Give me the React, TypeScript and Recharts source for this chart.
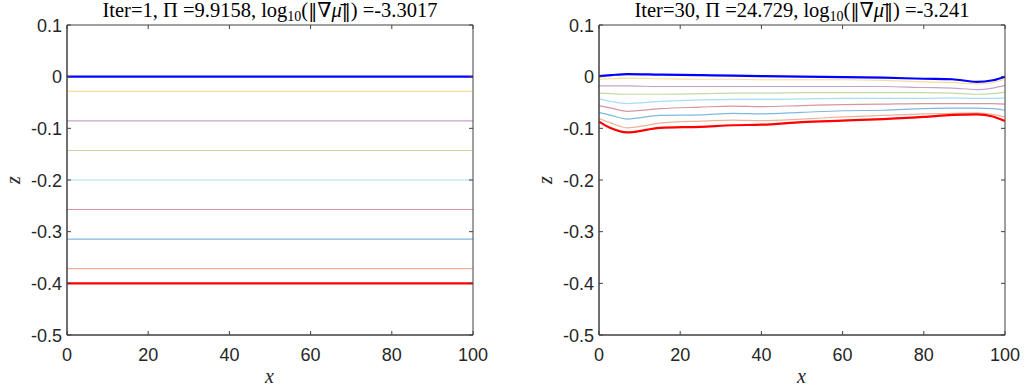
import React from 'react';
import { LineChart, Line, XAxis, YAxis, ReferenceArea } from 'recharts';

// x positions and tick values
const X_TICKS = [0, 20, 40, 60, 80, 100];
const Y_TICKS = [0.1, 0, -0.1, -0.2, -0.3, -0.4, -0.5];
const Y_TICK_LABELS = ['0.1', '0', '-0.1', '-0.2', '-0.3', '-0.4', '-0.5'];

// left panel (Iter=1): flat lines
const xLeft = [0, 100];
const leftLevels = [0, -0.0286, -0.0857, -0.1429, -0.2, -0.2571, -0.3143, -0.3714, -0.4];

// right panel (Iter=30)
const xRight = [0, 3, 7, 15, 25, 33, 40, 50, 60, 70, 80, 87, 93, 97, 100];
const rTop = [0.001, 0.003, 0.005, 0.004, 0.003, 0.002, 0.001, 0.0, -0.001, -0.002, -0.004, -0.005, -0.01, -0.007, 0.0];
const rYellow = [-0.005, -0.004, -0.003, -0.004, -0.005, -0.005, -0.006, -0.006, -0.006, -0.007, -0.01, -0.011, -0.014, -0.011, -0.005];
const rPurple = [-0.018, -0.018, -0.018, -0.019, -0.019, -0.019, -0.019, -0.019, -0.019, -0.019, -0.021, -0.022, -0.025, -0.022, -0.017];
const rGreen = [-0.032, -0.033, -0.034, -0.034, -0.033, -0.032, -0.032, -0.031, -0.031, -0.031, -0.031, -0.032, -0.034, -0.033, -0.03];
const rCyan = [-0.043, -0.048, -0.052, -0.048, -0.045, -0.044, -0.044, -0.043, -0.042, -0.042, -0.042, -0.041, -0.042, -0.042, -0.041];
const rWine = [-0.056, -0.061, -0.067, -0.062, -0.059, -0.057, -0.058, -0.056, -0.054, -0.053, -0.052, -0.052, -0.052, -0.052, -0.053];
const rBlue = [-0.069, -0.075, -0.082, -0.075, -0.074, -0.071, -0.072, -0.069, -0.066, -0.065, -0.062, -0.061, -0.061, -0.062, -0.065];
const rOrange = [-0.081, -0.09, -0.099, -0.09, -0.086, -0.084, -0.085, -0.082, -0.078, -0.075, -0.072, -0.071, -0.07, -0.073, -0.078];
const rBottom = [-0.087, -0.1, -0.108, -0.099, -0.097, -0.094, -0.093, -0.088, -0.085, -0.082, -0.078, -0.074, -0.073, -0.077, -0.086];

// matlab-ish colours, top to bottom
const SERIES = [
  { color: '#0000ff', width: 2.2, opacity: 1 },
  { color: '#EDB120', width: 1.2, opacity: 0.45 },
  { color: '#7E2F8E', width: 1.2, opacity: 0.45 },
  { color: '#77AC30', width: 1.2, opacity: 0.45 },
  { color: '#4DBEEE', width: 1.2, opacity: 0.5 },
  { color: '#A2142F', width: 1.2, opacity: 0.45 },
  { color: '#0072BD', width: 1.2, opacity: 0.5 },
  { color: '#D95319', width: 1.2, opacity: 0.45 },
  { color: '#ff0000', width: 2.2, opacity: 1 },
];

const PLOT_W = 406;
const PLOT_H = 310;
const AXIS = '#404040';
const TEXT = '#262626';
const SANS = '"Liberation Sans", Arial, sans-serif';
const SERIF = '"Liberation Serif", "DejaVu Serif", serif';

const leftData = xLeft.map((x) => {
  const row: Record<string, number> = { x };
  leftLevels.forEach((v, i) => (row[`s${i}`] = v));
  return row;
});

const rightSeries = [rTop, rYellow, rPurple, rGreen, rCyan, rWine, rBlue, rOrange, rBottom];
const rightData = xRight.map((x, j) => {
  const row: Record<string, number> = { x };
  rightSeries.forEach((s, i) => (row[`s${i}`] = s[j]));
  return row;
});

function XTick({ x, y, payload }: any) {
  return (
    <g>
      <line x1={x} x2={x} y1={y} y2={y - 4} stroke={AXIS} />
      <line x1={x} x2={x} y1={y - PLOT_H} y2={y - PLOT_H + 4} stroke={AXIS} />
      <text x={x} y={y + 26} textAnchor="middle" fontSize={18} fontFamily={SANS} fill={TEXT}>
        {payload.value}
      </text>
    </g>
  );
}

function YTick({ x, y, payload, index }: any) {
  return (
    <g>
      <line x1={x} x2={x + 4} y1={y} y2={y} stroke={AXIS} />
      <line x1={x + PLOT_W} x2={x + PLOT_W - 4} y1={y} y2={y} stroke={AXIS} />
      <text x={x - 5} y={y + 6.5} textAnchor="end" fontSize={18} fontFamily={SANS} fill={TEXT}>
        {Y_TICK_LABELS[index] ?? payload.value}
      </text>
    </g>
  );
}

function Panel({ data, yAxisWidth, rightMargin, width }: any) {
  return (
    <LineChart
      width={width}
      height={392}
      data={data}
      margin={{ top: 25, right: rightMargin, bottom: 0, left: 0 }}
    >
      <XAxis
        dataKey="x"
        type="number"
        domain={[0, 100]}
        ticks={X_TICKS}
        interval={0}
        height={57}
        tickSize={0}
        tickMargin={0}
        axisLine={{ stroke: AXIS }}
        tickLine={false}
        tick={<XTick />}
      />
      <YAxis
        type="number"
        domain={[-0.5, 0.1]}
        ticks={Y_TICKS}
        interval={0}
        width={yAxisWidth}
        tickSize={0}
        tickMargin={0}
        axisLine={{ stroke: AXIS }}
        tickLine={false}
        tick={<YTick />}
      />
      <ReferenceArea x1={0} x2={100} y1={-0.5} y2={0.1} fill="none" stroke={AXIS} strokeOpacity={1} />
      {SERIES.map((s, i) => (
        <Line
          key={i}
          dataKey={`s${i}`}
          type="monotone"
          stroke={s.color}
          strokeWidth={s.width}
          strokeOpacity={s.opacity}
          dot={false}
          isAnimationActive={false}
        />
      ))}
    </LineChart>
  );
}

function Title({ left, iter, pi, grad }: any) {
  return (
    <div
      style={{
        position: 'absolute',
        left: left - 20,
        top: -1,
        width: PLOT_W + 40,
        textAlign: 'center',
        fontFamily: SERIF,
        fontSize: 20.5,
        lineHeight: '22px',
        color: '#000',
        whiteSpace: 'nowrap',
      }}
    >
      Iter={iter}, Π ={pi}, log<sub style={{ fontSize: 14, verticalAlign: '-4px' }}>10</sub>(
      <span style={{ fontFamily: '"DejaVu Serif", serif', fontSize: 18 }}>‖</span>∇<i>μ̄</i>
      <span style={{ fontFamily: '"DejaVu Serif", serif', fontSize: 18 }}>‖</span>) ={grad}
    </div>
  );
}

const axisLabel: React.CSSProperties = {
  position: 'absolute',
  fontFamily: SERIF,
  fontStyle: 'italic',
  fontSize: 20,
  lineHeight: '20px',
  color: '#262626',
};

export default function App() {
  return (
    <div style={{ position: 'absolute', left: 0, top: 0, width: 1029, height: 392, background: '#fff', overflow: 'hidden' }}>
      <div style={{ position: 'absolute', left: 0, top: 0 }}>
        <Panel data={leftData} yAxisWidth={67} rightMargin={42} width={515} />
      </div>
      <div style={{ position: 'absolute', left: 515, top: 0 }}>
        <Panel data={rightData} yAxisWidth={84} rightMargin={24} width={514} />
      </div>
      <Title left={67} iter={1} pi="9.9158" grad="-3.3017" />
      <Title left={599} iter={30} pi="24.729" grad="-3.241" />
      <div style={{ ...axisLabel, left: 265, top: 366 }}>x</div>
      <div style={{ ...axisLabel, left: 797, top: 366 }}>x</div>
      <div style={{ ...axisLabel, left: 9, top: 170, transform: 'rotate(-90deg)' }}>z</div>
      <div style={{ ...axisLabel, left: 541, top: 170, transform: 'rotate(-90deg)' }}>z</div>
    </div>
  );
}
